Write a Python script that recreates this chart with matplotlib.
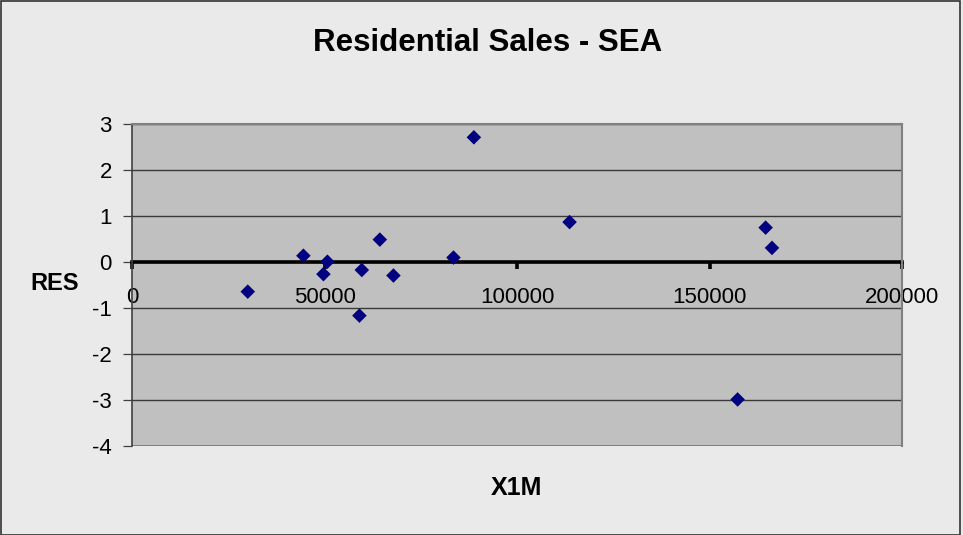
import matplotlib
matplotlib.use("Agg")
import matplotlib.pyplot as plt
from matplotlib.patches import Rectangle

x1m = [30070, 44520, 50760, 49720, 59690, 59070, 64370, 67910, 83500, 88800,
       113650, 164580, 166230, 157300]
res = [-0.65, 0.13, 0.00, -0.27, -0.18, -1.17, 0.48, -0.30, 0.09, 2.70,
       0.86, 0.74, 0.30, -2.99]
xticks = [0, 50000, 100000, 150000, 200000]
yticks = [-4, -3, -2, -1, 0, 1, 2, 3]
title = "Residential Sales - SEA"
xlabel = "X1M"
ylabel = "RES"

plt.rcParams['font.family'] = ['Liberation Sans', 'DejaVu Sans']

W, H = 963, 535
fig = plt.figure(figsize=(W / 100, H / 100), dpi=100)
fig.patch.set_facecolor('#EAEAEA')
fig.patches.append(Rectangle((0.5 / W, 0.5 / H), (W - 4) / W, (H - 1.5) / H,
                             transform=fig.transFigure, fill=False,
                             edgecolor='#333333', lw=1.2))

L, R, T, B = 132, 902, 123.5, 446
ax = fig.add_axes([L / W, (H - B) / H, (R - L) / W, (B - T) / H])
ax.set_facecolor('#C0C0C0')

ax.set_xlim(0, 200000)
ax.set_ylim(-4, 3)
ax.set_yticks(yticks)
ax.set_yticklabels([str(v) for v in yticks])
ax.set_xticks(xticks)
ax.set_xticklabels([str(v) for v in xticks])

ax.yaxis.grid(True, color='#3a3a3a', lw=1.0)
ax.set_axisbelow(True)

for s in ['top', 'right']:
    ax.spines[s].set_color('#808080')
    ax.spines[s].set_linewidth(1.5)
ax.spines['left'].set_color('#404040')
ax.spines['left'].set_linewidth(1.2)
ax.spines['bottom'].set_position(('data', 0))
ax.spines['bottom'].set_color('black')
ax.spines['bottom'].set_linewidth(2.6)
ax.spines['bottom'].set_zorder(1.5)
# bottom frame line at -4
ax.axhline(-4, color='#808080', lw=1.5, zorder=1)

ax.tick_params(axis='y', direction='out', length=6.5, width=0.9, color='#404040',
               labelsize=16, pad=8)
ax.tick_params(axis='x', direction='out', length=5, width=2.6, color='black',
               labelsize=16, pad=13)

ax.scatter(x1m, res, marker='D', s=55, color='#000080', edgecolors='none', zorder=3,
           clip_on=False)

fig.text(488 / W, 1 - 43 / H, title, ha='center', va='center',
         fontsize=22.5, fontweight='bold')
fig.text(55 / W, 1 - 284 / H, ylabel, ha='center', va='center',
         fontsize=17, fontweight='bold')
fig.text(516 / W, 1 - 488 / H, xlabel, ha='center', va='center',
         fontsize=18, fontweight='bold')

fig.savefig('out.png', dpi=100, facecolor=fig.get_facecolor())
